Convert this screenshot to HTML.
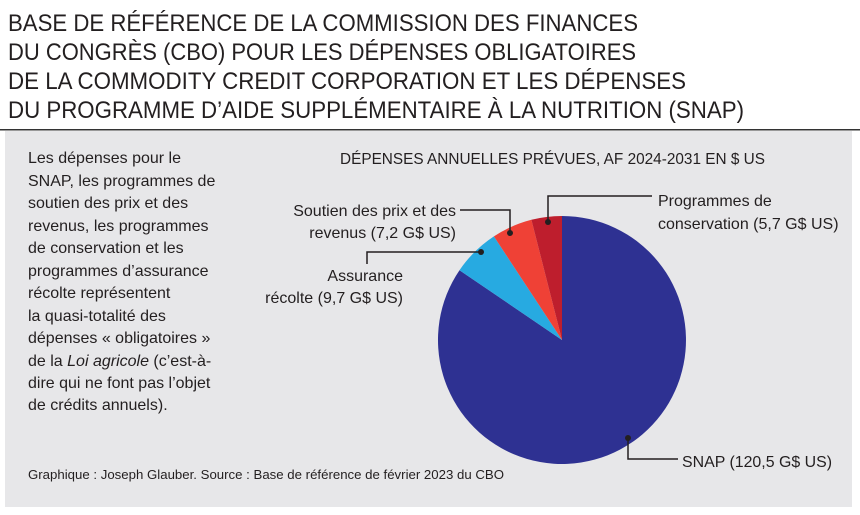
<!DOCTYPE html>
<html><head><meta charset="utf-8"><style>
html,body{margin:0;padding:0;background:#fff}
svg{display:block}
text{font-family:"Liberation Sans",sans-serif;fill:#231f20}
</style></head><body>
<svg width="860" height="515" viewBox="0 0 860 515" xmlns="http://www.w3.org/2000/svg">
<rect x="0" y="0" width="860" height="515" fill="#fff"/>
<g font-size="24" fill="#333">
<text x="8" y="31" textLength="630" lengthAdjust="spacingAndGlyphs">BASE DE RÉFÉRENCE DE LA COMMISSION DES FINANCES</text>
<text x="8" y="60" textLength="628" lengthAdjust="spacingAndGlyphs">DU CONGRÈS (CBO) POUR LES DÉPENSES OBLIGATOIRES</text>
<text x="8" y="89" textLength="678" lengthAdjust="spacingAndGlyphs">DE LA COMMODITY CREDIT CORPORATION ET LES DÉPENSES</text>
<text x="8" y="118" textLength="736" lengthAdjust="spacingAndGlyphs">DU PROGRAMME D’AIDE SUPPLÉMENTAIRE À LA NUTRITION (SNAP)</text>
</g>
<rect x="0" y="129" width="860" height="1.5" fill="#333"/>
<rect x="5" y="131" width="847" height="376" fill="#e7e7e9"/>
<g font-size="16">
<text x="28" y="163">Les dépenses pour le</text>
<text x="28" y="186">SNAP, les programmes de</text>
<text x="28" y="208">soutien des prix et des</text>
<text x="28" y="231">revenus, les programmes</text>
<text x="28" y="253">de conservation et les</text>
<text x="28" y="276">programmes d’assurance</text>
<text x="28" y="298">récolte représentent</text>
<text x="28" y="321">la quasi-totalité des</text>
<text x="28" y="343">dépenses « obligatoires »</text>
<text x="28" y="366">de la <tspan font-style="italic">Loi agricole</tspan> (c’est-à-</text>
<text x="28" y="388">dire qui ne font pas l’objet</text>
<text x="28" y="410">de crédits annuels).</text>
<text x="340" y="164" textLength="425" lengthAdjust="spacingAndGlyphs">DÉPENSES ANNUELLES PRÉVUES, AF 2024-2031 EN $ US</text>
<text x="456" y="216" text-anchor="end">Soutien des prix et des</text>
<text x="456" y="238" text-anchor="end">revenus (7,2 G$ US)</text>
<text x="658" y="206">Programmes de</text>
<text x="658" y="229">conservation (5,7 G$ US)</text>
<text x="403" y="281" text-anchor="end">Assurance</text>
<text x="403" y="303" text-anchor="end">récolte (9,7 G$ US)</text>
<text x="682" y="467" textLength="150" lengthAdjust="spacingAndGlyphs">SNAP (120,5 G$ US)</text>
</g>
<text x="28" y="479" font-size="13" textLength="476" lengthAdjust="spacingAndGlyphs">Graphique : Joseph Glauber. Source : Base de référence de février 2023 du CBO</text>
<g transform="translate(562,340)">
<path d="M0,0 L0,-124 A124,124 0 1,1 -102.5,-69.8 Z" fill="#2e3192"/>
<path d="M0,0 L-102.5,-69.8 A124,124 0 0,1 -68.1,-103.6 Z" fill="#27aae1"/>
<path d="M0,0 L-68.1,-103.6 A124,124 0 0,1 -30.6,-120.2 Z" fill="#ef4136"/>
<path d="M0,0 L-30.6,-120.2 A124,124 0 0,1 0,-124 Z" fill="#be1e2d"/>
</g>
<g stroke="#231f20" stroke-width="1.5" fill="none">
<polyline points="460,210 510,210 510,233"/>
<polyline points="548,222 548,196 652,196"/>
<polyline points="367,264 367,252 481,252"/>
<polyline points="628,438 628,459 678,459"/>
</g>
<g fill="#231f20">
<circle cx="510" cy="233" r="3"/>
<circle cx="548" cy="222" r="3"/>
<circle cx="481" cy="252" r="3"/>
<circle cx="628" cy="438" r="3"/>
</g>
</svg>
</body></html>
